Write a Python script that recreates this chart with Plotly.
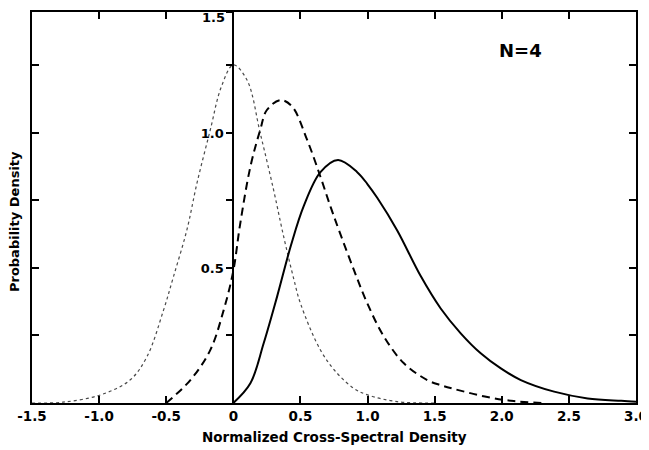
import plotly.graph_objects as go

# Dotted curve (peak at 0)
x_dot = [-1.5, -1.27, -0.99, -0.77, -0.644, -0.52, -0.446, -0.346, -0.271, -0.172, -0.09, 0.0,
         0.102, 0.2, 0.3, 0.375, 0.45, 0.5, 0.649, 0.774, 0.898, 1.0, 1.22, 1.5]
y_dot = [0.0, 0.003, 0.03, 0.085, 0.171, 0.344, 0.468, 0.641, 0.814, 1.011, 1.17, 1.252,
         1.196, 1.0, 0.789, 0.616, 0.46, 0.369, 0.196, 0.11, 0.054, 0.03, 0.005, 0.0]

# Dashed curve
x_dash = [-0.5, -0.32, -0.172, -0.072, 0.0, 0.05, 0.127, 0.2, 0.25, 0.351, 0.438, 0.55,
          0.649, 0.724, 0.786, 0.898, 0.998, 1.122, 1.271, 1.445, 1.545, 1.644, 1.893, 2.09, 2.3]
y_dash = [0.0, 0.085, 0.196, 0.344, 0.49, 0.66, 0.875, 1.011, 1.085, 1.122, 1.098, 0.974,
          0.838, 0.727, 0.641, 0.493, 0.369, 0.246, 0.147, 0.085, 0.066, 0.052, 0.022, 0.007, 0.0]

# Solid curve
x_sol = [0.0, 0.127, 0.226, 0.326, 0.43, 0.525, 0.649, 0.78, 0.923, 1.0, 1.072, 1.22, 1.396,
         1.545, 1.694, 1.843, 1.993, 2.142, 2.39, 2.64, 2.89, 3.0]
y_sol = [0.0, 0.073, 0.221, 0.394, 0.585, 0.73, 0.855, 0.9, 0.855, 0.81, 0.76, 0.64, 0.47,
         0.35, 0.258, 0.184, 0.128, 0.085, 0.042, 0.017, 0.008, 0.005]

x_ticks = [-1.5, -1.0, -0.5, 0, 0.5, 1.0, 1.5, 2.0, 2.5, 3.0]
x_tick_text = ["-1.5", "-1.0", "-0.5", "0", "0.5", "1.0", "1.5", "2.0", "2.5", "3.0"]
y_ticks = [0.25, 0.5, 0.75, 1.0, 1.25, 1.448]
y_tick_text = ["", "0.5", "", "1.0", "", ""]
y_top_label = "1.5"

FONT = "DejaVu Sans"

fig = go.Figure()
fig.add_trace(go.Scatter(x=x_dot, y=y_dot, mode="lines", line=dict(color="#4a4a4a", width=1.2, dash="dot", shape="spline")))
fig.add_trace(go.Scatter(x=x_dash, y=y_dash, mode="lines", line=dict(color="black", width=2, dash="8px,5px", shape="spline")))
fig.add_trace(go.Scatter(x=x_sol, y=y_sol, mode="lines", line=dict(color="black", width=2, shape="spline")))
# invisible trace to activate yaxis2
fig.add_trace(go.Scatter(x=[0], y=[0], yaxis="y2", mode="markers", marker=dict(opacity=0), hoverinfo="skip"))

fig.update_layout(
    width=641, height=442,
    margin=dict(l=24, r=13, t=4, b=47, autoexpand=False),
    paper_bgcolor="white", plot_bgcolor="white",
    showlegend=False,
    font=dict(family=FONT, color="black"),
    xaxis=dict(domain=[0, 1], automargin=False, range=[-1.5, 3.0], tickvals=x_ticks,
               ticktext=["<b>%s</b>" % t for t in x_tick_text], ticklabeloverflow="allow",
               ticks="inside", ticklen=7, tickwidth=1.5, tickcolor="black",
               showline=True, linecolor="black", linewidth=2, mirror="ticks",
               showgrid=False, zeroline=False, tickfont=dict(size=13.5, family=FONT)),
    yaxis=dict(domain=[0, 1], automargin=False, range=[0, 1.448], tickvals=y_ticks, ticktext=[""] * len(y_ticks),
               ticks="inside", ticklen=7, tickwidth=1.5, tickcolor="black",
               showline=True, linecolor="black", linewidth=2, mirror="ticks",
               showgrid=False, zeroline=False, showticklabels=False),
    yaxis2=dict(range=[0, 1.448], overlaying="y", anchor="free", position=1.5 / 4.5, automargin=False,
                tickvals=y_ticks, ticktext=["<b>%s</b>" % t for t in y_tick_text], ticklabeloverflow="allow",
                ticks="outside", ticklen=6, tickwidth=1.5, tickcolor="black",
                showline=True, linecolor="black", linewidth=2,
                showgrid=False, zeroline=False, tickfont=dict(size=13, family=FONT)),
    annotations=[
        dict(text="<b>%s</b>" % y_top_label, x=0, y=1, xref="x", yref="paper", xanchor="right", yanchor="top",
             xshift=-6, yshift=4, showarrow=False, font=dict(size=13, family=FONT)),
        dict(text="<b>Normalized Cross-Spectral Density</b>", x=0.5, y=-0.087, xref="paper", yref="paper",
             xanchor="center", yanchor="middle", showarrow=False, font=dict(size=13.5, family=FONT)),
        dict(text="<b>Probability Density</b>", x=-0.028, y=0.463, xref="paper", yref="paper",
             xanchor="center", yanchor="middle", textangle=-90, showarrow=False, font=dict(size=13, family=FONT)),
        dict(text="<b>N=4</b>", x=2.14, y=1.307, xref="x", yref="y",
             xanchor="center", yanchor="middle", showarrow=False, font=dict(size=18, family=FONT)),
    ],
)

fig.write_html("out.html")
